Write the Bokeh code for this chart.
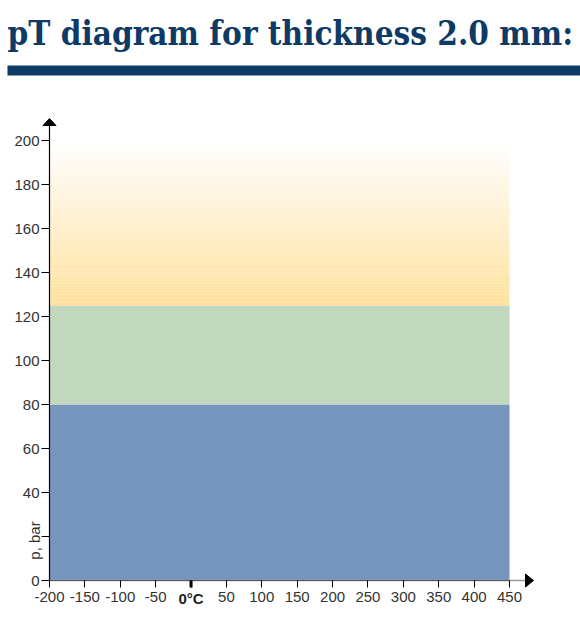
import numpy as np
from bokeh.plotting import figure
from bokeh.models import Range1d, FixedTicker
from bokeh.core.properties import value
from bokeh.embed import file_html
from bokeh.resources import INLINE

# ---- data ----
title_text = "pT diagram for thickness 2.0 mm:"
band_names = ["low", "mid", "high"]
band_bottom = [0, 80, 125]
band_top = [80, 125, 200]
band_colors = ["#7695BD", "#C1D7BE", "#FFE19E"]
temp_min = -200
temp_max = 450
x_ticks = [-200, -150, -100, -50, 0, 50, 100, 150, 200, 250, 300, 350, 400, 450]
y_ticks = [0, 20, 40, 60, 80, 100, 120, 140, 160, 180, 200]
x_zero_label = "0°C"
y_label = "p, bar"

# ---- layout / style ----
W, H = 580, 618
X0_PX, Y0_PX = 49, 580            # page position of (temp_min, 0)
XS = 460 / (temp_max - temp_min)  # px per °C
YS = 440 / 200                    # px per bar
NAVY = "#0E3A66"
TICK_FONT = "Liberation Sans"

x_start = temp_min - X0_PX / XS
y_start = -(H - Y0_PX) / YS


def px_x(px):
    return x_start + px / XS


def px_y(py):
    return y_start + (H - py) / YS


p = figure(width=W, height=H, output_backend="svg", toolbar_location=None,
           x_range=Range1d(x_start, x_start + W / XS),
           y_range=Range1d(y_start, y_start + H / YS),
           min_border=0, outline_line_color=None)
p.grid.visible = False
p.background_fill_color = "white"

# header: title and rule
p.text(x=[px_x(7)], y=[px_y(33)], text=[title_text], text_font=value("DejaVu Serif Condensed"),
       text_font_style="bold", text_font_size="33px", text_color=NAVY,
       text_baseline="alphabetic", text_align="left")
p.quad(left=[px_x(7)], right=[px_x(W)], top=[px_y(65)], bottom=[px_y(75)],
       fill_color=NAVY, line_color=None)

# solid bands
for b, t, c in zip(band_bottom[:2], band_top[:2], band_colors[:2]):
    p.quad(left=[temp_min], right=[temp_max], bottom=[b], top=[t], fill_color=c, line_color=None)

# fading top band
n = 60
edges = np.linspace(band_bottom[2], band_top[2], n + 1)
alphas = np.linspace(1.0, 0.0, n)
p.quad(left=[temp_min] * n, right=[temp_max] * n, bottom=edges[:-1], top=edges[1:],
       fill_color=band_colors[2], fill_alpha=alphas, line_color=None)

# axis lines + arrowheads
x_tip = px_x(533)
y_tip = px_y(118)
p.segment(x0=[temp_min], y0=[0], x1=[x_tip - 6 / XS], y1=[0], line_color="#9a9a9a", line_width=1.5)
p.segment(x0=[temp_min], y0=[0], x1=[temp_max], y1=[0], line_color="#5a5a5a", line_width=1.2)
p.segment(x0=[temp_min], y0=[0], x1=[temp_min], y1=[y_tip - 5 / YS], line_color="black", line_width=1.2)
p.patch(x=[x_tip, x_tip - 8 / XS, x_tip - 8 / XS], y=[0, 6.5 / YS, -6.5 / YS], fill_color="black", line_color="black")
p.patch(x=[temp_min, temp_min - 6.5 / XS, temp_min + 6.5 / XS], y=[y_tip, y_tip - 7 / YS, y_tip - 7 / YS],
        fill_color="black", line_color="black")

# axes (tick marks and labels)
p.xaxis.fixed_location = 0
p.yaxis.fixed_location = temp_min
for ax in (p.xaxis[0], p.yaxis[0]):
    ax.axis_line_color = None
    ax.major_tick_line_color = "black"
    ax.major_tick_line_width = 1
    ax.major_tick_in = 0
    ax.minor_tick_line_color = None
    ax.major_label_text_font = TICK_FONT
    ax.major_label_text_font_size = "15px"
    ax.major_label_text_color = "#333333"

p.xaxis.ticker = FixedTicker(ticks=x_ticks)
p.yaxis.ticker = FixedTicker(ticks=y_ticks)
p.xaxis.major_tick_out = 7
p.yaxis.major_tick_out = 8
p.xaxis.major_label_standoff = 4
p.yaxis.major_label_standoff = 2
p.xaxis.major_label_overrides = {t: ("" if t == 0 else str(t)) for t in x_ticks}
p.yaxis.major_label_overrides = {20: ""}

# thicker 0 tick and bold 0°C label
p.segment(x0=[0], y0=[0], x1=[0], y1=[-7 / YS], line_color="black", line_width=3)
p.text(x=[0], y=[px_y(589)], text=[x_zero_label], text_font=value(TICK_FONT), text_font_style="bold",
       text_font_size="15px", text_color="#222222", text_align="center", text_baseline="top")

# y label
p.text(x=[px_x(34)], y=[px_y(540)], text=[y_label], angle=np.pi / 2, text_font=value(TICK_FONT),
       text_font_size="15px", text_color="#333333", text_align="center", text_baseline="middle")

open("out.html", "w").write(file_html(p, INLINE))
